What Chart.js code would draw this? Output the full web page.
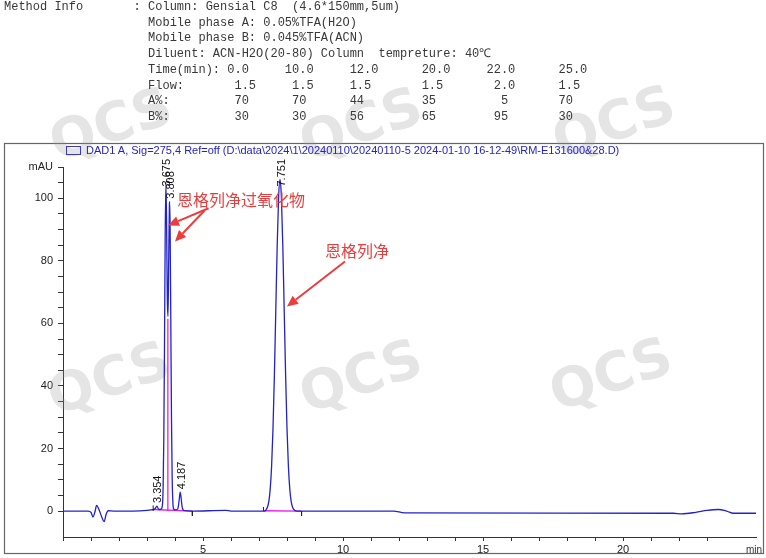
<!DOCTYPE html>
<html>
<head>
<meta charset="utf-8">
<script src="https://cdn.jsdelivr.net/npm/chart.js@4.4.1/dist/chart.umd.min.js"></script>
<style>
  body { margin: 0; width: 766px; height: 558px; background: #fff; overflow: hidden; position: relative; }
  #chart { position: absolute; left: 0; top: 0; }
  #info { position: absolute; left: 4px; top: 0; margin: 0; font: 12px/15.7px "Liberation Mono", monospace; color: #383838; }
  #sigBox { position: absolute; left: 66px; top: 146px; width: 13px; height: 7px; border: 1px solid #3a3ac0; }
  #sig { position: absolute; left: 86px; top: 143px; font: 11px/14px "Liberation Sans", Arial, sans-serif; color: #2323c8; white-space: nowrap; }
</style>
</head>
<body>
<canvas id="chart" width="766" height="558"></canvas>
<pre id="info">Method Info       : Column: Gensial C8  (4.6*150mm,5um)
                    Mobile phase A: 0.05%TFA(H2O)
                    Mobile phase B: 0.045%TFA(ACN)
                    Diluent: ACN-H2O(20-80) Column  tempreture: 40℃
                    Time(min): 0.0     10.0     12.0      20.0     22.0      25.0
                    Flow:       1.5     1.5     1.5       1.5       2.0      1.5
                    A%:         70      70      44        35         5       70
                    B%:         30      30      56        65        95       30</pre>
<div id="sigBox"></div>
<div id="sig">DAD1 A, Sig=275,4 Ref=off (D:\data\2024\1\20240110\20240110-5 2024-01-10 16-12-49\RM-E131600&amp;28.D)</div>
<script>
// chromatogram trace (min, mAU)
const times = [0, 0.9, 1.0, 1.07, 1.14, 1.2, 1.28, 1.38, 1.47, 1.54, 1.62, 1.8, 2.5, 3.0, 3.15, 3.25, 3.3, 3.354, 3.4, 3.45, 3.5,
  3.55, 3.575, 3.6, 3.625, 3.65, 3.675, 3.7, 3.725, 3.75, 3.775, 3.8, 3.808, 3.825, 3.85, 3.875, 3.9, 3.925, 3.95, 4.0,
  4.08, 4.12, 4.15, 4.187, 4.22, 4.25, 4.29, 4.35, 4.6, 5.8, 6.0, 7.2, 7.25, 7.3, 7.35, 7.4, 7.45, 7.5, 7.55, 7.6, 7.65, 7.7,
  7.751, 7.8, 7.85, 7.9, 7.95, 8.0, 8.05, 8.1, 8.15, 8.2, 8.25, 8.35, 11.8, 12.2, 21.8, 22.1, 22.6, 23.0, 23.4, 23.7, 23.95, 24.75];
const signal = [0, 0, -0.4, -1.9, -0.3, 1.8, 0.6, -1.8, -3.4, -1.0, 0.1, 0, 0, 0.2, 0.4, 0.5, 0.9, 1.6, 0.8, 0.5, 0.6,
  1.8, 7.2, 22.9, 53.1, 88.1, 104.8, 92.0, 68.1, 62.2, 80.0, 97.8, 98.9, 90.9, 60.8, 29.1, 10.0, 2.6, 0.7, 0.4,
  0.5, 1.5, 3.7, 6.0, 4.0, 1.6, 0.4, 0.1, 0, 0.2, 0, 0, 0.4, 1.2, 3.0, 7.0, 14.3, 26.4, 43.6, 64.3, 84.9, 100.3,
  106, 100.3, 84.9, 64.3, 43.6, 26.4, 14.3, 7.0, 3.0, 1.2, 0.4, 0, 0, -0.6, -0.7, -0.9, -0.4, 0.2, 0.5, 0.0, -0.7, -0.7];

// integration baselines / drop line (magenta)
const baseStart = [[3.22, 0.5], [3.745, 0], [7.16, 0.1]];
const baseEnd = [[4.62, 0], [3.745, 61.5], [8.5, 0]];

// peak start / end event ticks
const eventTimes = [3.22, 4.62, 7.16, 8.52];
const eventTops = [1.8, -1.5, 1.3, -1.5];

const peakTimes = [3.354, 3.675, 3.808, 4.187, 7.751];
const peakHeights = [1.6, 104.8, 98.9, 6.0, 106];
const peakLabels = ['3.354', '3.675', '3.808', '4.187', '7.751'];

const noteTexts = ['恩格列净过氧化物', '恩格列净'];
const noteAt = [[4.07, 99.4], [9.36, 83.3]];
const arrowFrom = [[5.2, 96.8], [5.05, 96.0], [10.07, 79.8]];
const arrowTo = [[3.75, 91.3], [4.0, 86.2], [8.0, 65.4]];

const yTop = 110, yBottom = -8.3, xMax = 24.75;

const datasets = [{
  data: times.map((t, i) => ({ x: t, y: signal[i] })),
  borderColor: '#2222cc', borderWidth: 1.3, pointRadius: 0,
  cubicInterpolationMode: 'monotone', order: 1
}];
baseStart.forEach((p, i) => datasets.push({
  data: [{ x: p[0], y: p[1] }, { x: baseEnd[i][0], y: baseEnd[i][1] }],
  borderColor: '#e81ee8', borderWidth: 1.3, pointRadius: 0, order: 2
}));
eventTimes.forEach((t, i) => datasets.push({
  data: [{ x: t, y: 0 }, { x: t, y: eventTops[i] }],
  borderColor: '#222', borderWidth: 1, pointRadius: 0, order: 0
}));

const onStep = (s, step) => { s.ticks = s.ticks.filter(t => Math.abs(t.value / step - Math.round(t.value / step)) < 1e-6); };

const decor = {
  id: 'decor',
  beforeDraw(chart) {
    const ctx = chart.ctx;
    ctx.save();
    ctx.fillStyle = '#fff';
    ctx.fillRect(0, 0, chart.width, chart.height);
    ctx.strokeStyle = '#666';
    ctx.lineWidth = 1.2;
    ctx.strokeRect(4.5, 143.5, 759, 410);
    ctx.restore();
  },
  beforeDatasetsDraw(chart) {
    // QCS watermarks
    const ctx = chart.ctx;
    ctx.save();
    ctx.fillStyle = 'rgba(150,150,150,0.25)';
    ctx.font = 'bold 54px "DejaVu Sans"';
    ctx.textAlign = 'center';
    ctx.textBaseline = 'middle';
    [[112, 128], [362, 128], [615, 126], [110, 382], [362, 380], [612, 378]].forEach(([x, y]) => {
      ctx.save();
      ctx.translate(x, y);
      ctx.rotate(-0.33);
      ctx.fillText('QCS', 0, 0);
      ctx.restore();
    });
    ctx.restore();
  },
  afterDraw(chart) {
    const ctx = chart.ctx;
    const xs = chart.scales.x, ys = chart.scales.y;
    ctx.save();
    // retention time labels, kept from running above the plot top
    ctx.fillStyle = '#111';
    ctx.font = '11px "Liberation Sans"';
    ctx.textAlign = 'left';
    ctx.textBaseline = 'middle';
    peakTimes.forEach((t, i) => {
      const w = ctx.measureText(peakLabels[i]).width;
      const y = Math.max(ys.getPixelForValue(peakHeights[i]) - 3, chart.chartArea.top - 8 + w);
      ctx.save();
      ctx.translate(xs.getPixelForValue(t) + 1.5, y);
      ctx.rotate(-Math.PI / 2);
      ctx.fillText(peakLabels[i], 0, 0);
      ctx.restore();
    });
    // red notes and arrows
    ctx.fillStyle = '#ec3c3c';
    ctx.strokeStyle = '#ec3c3c';
    ctx.font = '16px "Noto Sans CJK SC"';
    noteTexts.forEach((s, i) => ctx.fillText(s, xs.getPixelForValue(noteAt[i][0]), ys.getPixelForValue(noteAt[i][1])));
    ctx.lineWidth = 2;
    arrowFrom.forEach((f, i) => {
      const x1 = xs.getPixelForValue(f[0]), y1 = ys.getPixelForValue(f[1]);
      const x2 = xs.getPixelForValue(arrowTo[i][0]), y2 = ys.getPixelForValue(arrowTo[i][1]);
      const a = Math.atan2(y2 - y1, x2 - x1);
      const hx = x2 - 11 * Math.cos(a), hy = y2 - 11 * Math.sin(a);
      ctx.beginPath();
      ctx.moveTo(x1, y1);
      ctx.lineTo(hx, hy);
      ctx.stroke();
      ctx.beginPath();
      ctx.moveTo(x2, y2);
      ctx.lineTo(hx + 5 * Math.sin(a), hy - 5 * Math.cos(a));
      ctx.lineTo(hx - 5 * Math.sin(a), hy + 5 * Math.cos(a));
      ctx.closePath();
      ctx.fill();
    });
    // axis unit
    ctx.fillStyle = '#333';
    ctx.font = '10px "Liberation Sans"';
    ctx.textAlign = 'right';
    ctx.fillText('min', 762, chart.chartArea.bottom + 13);
    ctx.restore();
  }
};

new Chart(document.getElementById('chart'), {
  type: 'line',
  data: { datasets },
  options: {
    responsive: false,
    animation: false,
    devicePixelRatio: 1,
    layout: { padding: { left: 0, top: 167, right: 10, bottom: 0 } },
    plugins: { legend: { display: false }, tooltip: { enabled: false } },
    scales: {
      x: {
        type: 'linear', min: 0, max: xMax,
        afterFit: s => { s.height = 21; },
        afterBuildTicks: s => onStep(s, 1),
        grid: { drawOnChartArea: false, tickLength: 4, tickColor: '#333' },
        border: { color: '#333' },
        ticks: {
          stepSize: 1, autoSkip: false, maxRotation: 0, padding: 2, color: '#222',
          font: { family: '"Liberation Sans"', size: 11 },
          callback: v => (v > 0 && v % 5 === 0) ? String(v) : ''
        }
      },
      y: {
        min: yBottom, max: yTop,
        afterFit: s => { s.width = 63; },
        afterBuildTicks: s => onStep(s, 5),
        grid: { drawOnChartArea: false, tickLength: 5, tickColor: '#333' },
        border: { color: '#333' },
        ticks: {
          stepSize: 5, autoSkip: false, padding: 5, color: '#222',
          font: { family: '"Liberation Sans"', size: 11 },
          callback: v => v === yTop ? 'mAU' : (v % 20 === 0 ? String(v) : '')
        }
      }
    }
  },
  plugins: [decor]
});
</script>
</body>
</html>
